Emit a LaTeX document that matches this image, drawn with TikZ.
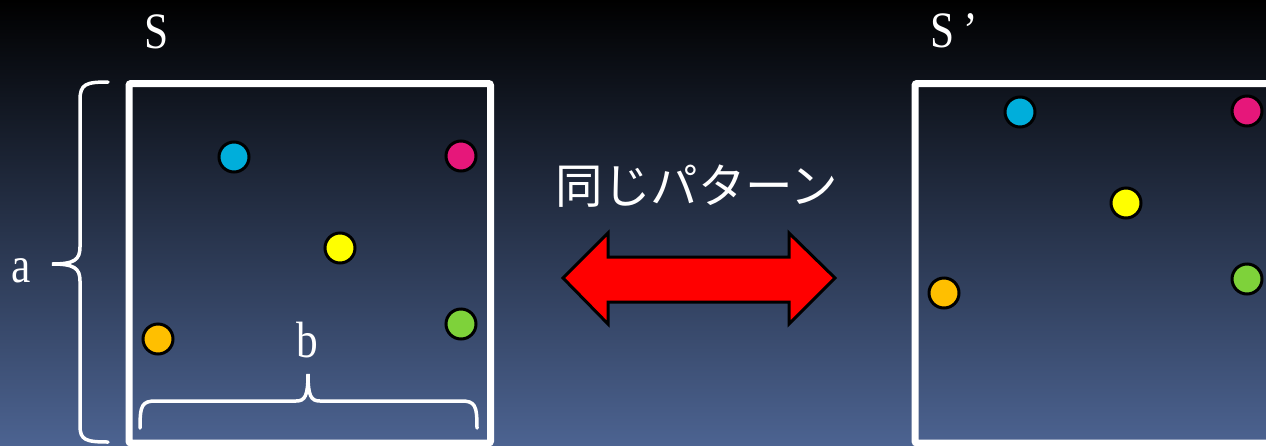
\documentclass[tikz,border=0pt]{standalone}
\usepackage{fontspec}
\setmainfont{Liberation Serif}[FakeStretch=0.85]
\newfontfamily\jpfont{Noto Sans CJK JP}
\definecolor{bgbot}{RGB}{76,99,145}
\definecolor{dcyan}{RGB}{0,174,219}
\definecolor{dmagenta}{RGB}{230,23,122}
\definecolor{dyellow}{RGB}{255,255,0}
\definecolor{dorange}{RGB}{255,191,0}
\definecolor{dgreen}{RGB}{126,210,58}
\begin{document}
\begin{tikzpicture}[x=1pt,y=-1pt,
  frame/.style={draw=white,line width=7pt,rounded corners=2pt},
  dot/.style={circle,draw=black,line width=3pt,minimum size=30pt,inner sep=0pt},
  bracepath/.style={draw=white,line width=3.5pt,line cap=round},
  lbl/.style={text=white,font=\fontsize{51}{51}\selectfont,anchor=base,inner sep=0pt}]
\useasboundingbox (0,0) rectangle (1266,445);
\clip (0,0) rectangle (1266,445);
\shade[top color=black, bottom color=bgbot] (0,0) rectangle (1266,445);
% frames
\draw[frame] (129,83.5) rectangle (490.5,443);
\draw[frame] (915,83.5) rectangle (1290,443);
% labels
\node[lbl] (S) at (157,48) {S};
\node[lbl] (S2) at (954,47) {S\,’};
\node[lbl] (a) at (21,282) {a};
\node[lbl] (b) at (307,357) {b};
\node[text=white,font=\jpfont\fontsize{47.5}{47.5}\selectfont,inner sep=0pt] (jp) at (697,186) {同じパターン};
% braces
\draw[bracepath] (108,82) .. controls (86,82) and (80,84) .. (80,100) -- (80,247)
  .. controls (80,260) and (74,264) .. (52,264)
  .. controls (74,264) and (80,268) .. (80,281) -- (80,426)
  .. controls (80,440) and (86,442) .. (108,442);
\draw[bracepath] (140,428) .. controls (140,405) and (142,401) .. (156,401) -- (296,401)
  .. controls (305,401) and (308,396) .. (308,374)
  .. controls (308,396) and (311,401) .. (320,401) -- (461,401)
  .. controls (475,401) and (477,405) .. (477,428);
% double arrow
\filldraw[fill=red,draw=black,line width=3pt,line join=miter]
  (563,278) -- (608,233) -- (608,257) -- (789,257) -- (789,233) -- (835,278)
  -- (789,324) -- (789,302) -- (608,302) -- (608,324) -- cycle;
% dots left
\node[dot,fill=dcyan] (c1) at (234,157) {};
\node[dot,fill=dmagenta] (m1) at (461,156) {};
\node[dot,fill=dyellow] (y1) at (340,248) {};
\node[dot,fill=dorange] (o1) at (158,339) {};
\node[dot,fill=dgreen] (g1) at (461,324) {};
% dots right
\node[dot,fill=dcyan] (c2) at (1020,112) {};
\node[dot,fill=dmagenta] (m2) at (1247,111) {};
\node[dot,fill=dyellow] (y2) at (1126,203) {};
\node[dot,fill=dorange] (o2) at (944,293) {};
\node[dot,fill=dgreen] (g2) at (1247,279) {};
\end{tikzpicture}
\end{document}
